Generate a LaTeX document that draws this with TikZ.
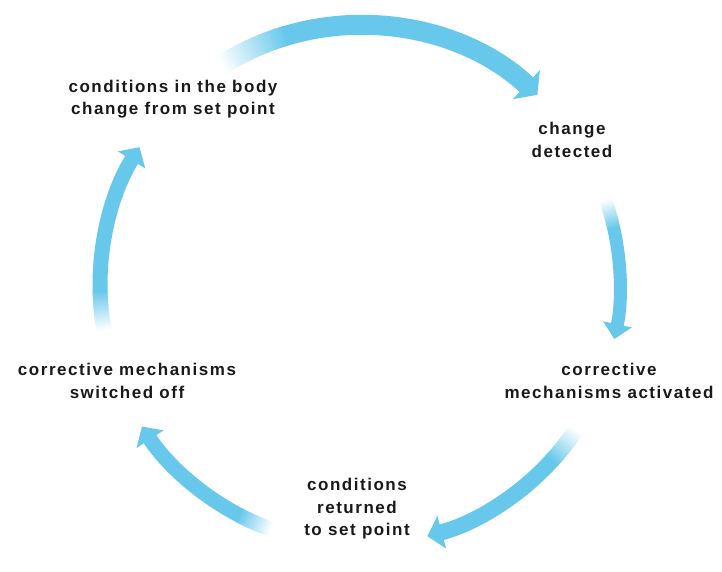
\documentclass[tikz,border=0pt]{standalone}
\usepackage{fontspec}
\setmainfont[LetterSpace=9]{Liberation Sans}
\usetikzlibrary{arrows.meta,calc}
\definecolor{loopblue}{RGB}{104,200,236}
\definecolor{textgrey}{RGB}{25,25,25}
\tikzset{
  stage/.style={align=center, text=textgrey, font=\fontsize{17}{22.5}\selectfont\bfseries},
  ringarrow/.style={line width=#1, line cap=butt},
}
\begin{document}
\begin{tikzpicture}[x=1pt, y=1pt]
	\useasboundingbox (0,0) rectangle (722,572);
	\coordinate (Hub) at (360,287);

	\node (Drift) [stage] at (173,473) {conditions in the body\\change from set point};
	\node (Detect) [stage] at (572,432) {change\\detected};
	\node (Active) [stage] at (609,191) {corrective\\mechanisms activated};
	\node (Return) [stage] at (357,63) {conditions\\returned\\to set point};
	\node (Off) [stage] at (127,191) {corrective mechanisms\\switched off};

	% arcs round the loop, fading in at the tail
	\foreach \a/\b/\w [count=\n] in {122/47/20, 19/-12/13, -34/-75/16, -110/-147/15, 190/148/15} {
		\foreach \k in {0,...,19} {
			\pgfmathsetmacro\p{\a+(\b-\a)*0.01*\k}
			\pgfmathsetmacro\q{\a+(\b-\a)*0.01*(\k+1.5)}
			\pgfmathsetmacro\t{3+\k*4.8}
			\draw [ringarrow=\w pt, draw=loopblue!\t!white] ($(Hub)+(\p:260pt)$) arc [start angle=\p, end angle=\q, radius=260pt];
		}
		\pgfmathsetmacro\s{\a+(\b-\a)*0.2}
		\pgfmathsetmacro\hw{\w*1.5+9}
		\coordinate (Body\n) at ($(Hub)+(\s:260pt)$);
		\draw [ringarrow=\w pt, draw=loopblue, -{Triangle[length=15pt, width=\hw pt]}] (Body\n) arc [start angle=\s, end angle=\b, radius=260pt];
	}
\end{tikzpicture}
\end{document}
